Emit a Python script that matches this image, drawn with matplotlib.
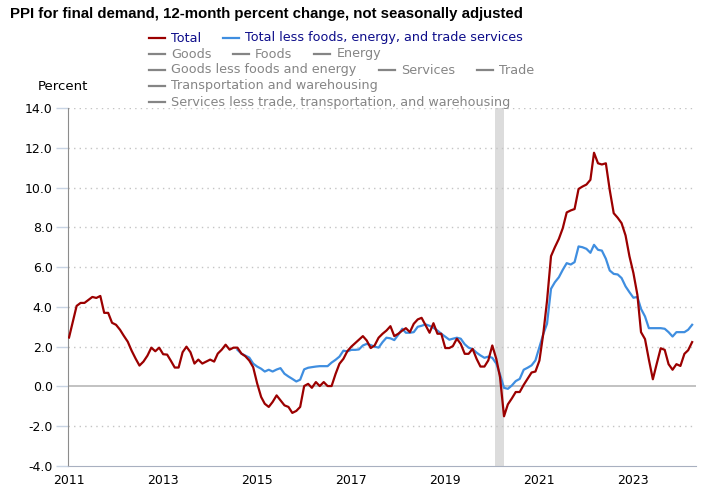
import numpy as np
import pandas as pd
import matplotlib
matplotlib.use('Agg')
import matplotlib.pyplot as plt
from matplotlib.lines import Line2D

# PPI final demand, 12-month percent change (Jan 2011 - Apr 2024)
total = [2.46, 3.3, 4.05, 4.2, 4.2, 4.35, 4.5, 4.45, 4.55, 3.7, 3.7, 3.2,
         3.1, 2.85, 2.55, 2.25, 1.8, 1.4, 1.05, 1.25, 1.55, 1.95, 1.77, 1.95,
         1.62, 1.6, 1.3, 0.95, 0.95, 1.72, 2.0, 1.72, 1.15, 1.35, 1.15, 1.25,
         1.35, 1.25, 1.65, 1.85, 2.1, 1.85, 1.95, 1.95, 1.65, 1.52, 1.3, 0.97,
         0.15, -0.53, -0.87, -1.03, -0.78, -0.45, -0.7, -0.95, -1.03, -1.33, -1.23, -1.03,
         0.02, 0.13, -0.07, 0.22, 0.02, 0.22, 0.02, 0.02, 0.63, 1.14, 1.39, 1.77,
         2.0, 2.18, 2.35, 2.53, 2.31, 1.93, 2.06, 2.45, 2.65, 2.81, 3.03, 2.53,
         2.65, 2.81, 2.93, 2.73, 3.15, 3.37, 3.45, 3.07, 2.7, 3.18, 2.65, 2.65,
         1.93, 1.93, 2.03, 2.4, 2.14, 1.64, 1.64, 1.89, 1.39, 1.0, 1.0, 1.31,
         2.06, 1.39, 0.47, -1.5, -0.9, -0.6, -0.28, -0.28, 0.08, 0.38, 0.7, 0.75,
         1.3, 2.7, 4.3, 6.55, 7.0, 7.42, 7.95, 8.75, 8.85, 8.92, 9.93, 10.05,
         10.15, 10.39, 11.75, 11.22, 11.16, 11.22, 9.88, 8.71, 8.48, 8.21, 7.59, 6.55,
         5.7, 4.6, 2.73, 2.38, 1.35, 0.36, 1.14, 1.92, 1.84, 1.12, 0.84, 1.12,
         1.03, 1.64, 1.82, 2.23]

# Total less foods, energy, and trade services (Aug 2014 - Apr 2024)
core = [1.84, 1.65, 1.55, 1.45, 1.15,
        1.0, 0.89, 0.75, 0.84, 0.75, 0.85, 0.92, 0.64, 0.5, 0.38, 0.25, 0.34,
        0.86, 0.94, 0.97, 1.0, 1.02, 1.02, 1.02, 1.2, 1.34, 1.5, 1.8, 1.76,
        1.84, 1.84, 1.86, 2.06, 2.14, 2.08, 2.0, 1.95, 2.23, 2.45, 2.42, 2.33,
        2.6, 2.9, 2.7, 2.7, 2.73, 3.0, 3.05, 3.12, 3.05, 2.95, 2.81, 2.65,
        2.5, 2.35, 2.4, 2.45, 2.4, 2.12, 1.95, 1.88, 1.7, 1.56, 1.44, 1.5,
        1.44, 1.15, 0.6, -0.07, -0.12, 0.05, 0.27, 0.38, 0.84, 0.94, 1.06, 1.31,
        1.98, 2.65, 3.15, 4.91, 5.24, 5.49, 5.86, 6.2, 6.13, 6.25, 7.04, 7.0,
        6.92, 6.72, 7.12, 6.87, 6.83, 6.42, 5.83, 5.66, 5.63, 5.45, 5.03, 4.74,
        4.46, 4.5, 3.9, 3.52, 2.93, 2.93, 2.93, 2.93, 2.9, 2.73, 2.51, 2.73,
        2.73, 2.73, 2.85, 3.1]

total_dates = pd.date_range('2011-01-01', periods=len(total), freq='MS')
core_dates = pd.date_range('2014-08-01', periods=len(core), freq='MS')

recession = ('2020-02-01', '2020-04-01')
year_ticks = ['2011', '2013', '2015', '2017', '2019', '2021', '2023']
y_ticks = np.arange(-4, 15, 2)

W, H = 713, 494
fig = plt.figure(figsize=(W / 100, H / 100), dpi=100)
ax = fig.add_axes([68 / W, 1 - 466 / H, (696 - 68) / W, (466 - 108) / H])

ax.axvspan(pd.Timestamp('2020-01-24'), pd.Timestamp(recession[1]), color='#dcdcdc', lw=0, zorder=1)
for v in y_ticks:
    if v == 0:
        ax.axhline(0, color='#b8b8b8', lw=1.2, zorder=2)
    elif v > -4:
        ax.axhline(v, color='#c4c4c4', lw=1.0, ls=(0, (1, 3)), zorder=2)

ax.plot(core_dates, core, color='#3f8ee0', lw=1.6, zorder=4)
ax.plot(total_dates, total, color='#9b0000', lw=1.6, zorder=5)

ax.set_xlim(pd.Timestamp('2010-12-24'), pd.Timestamp('2024-05-01'))
ax.set_ylim(-4, 14)
ax.set_yticks(y_ticks)
ax.set_yticklabels(['%.1f' % v for v in y_ticks])
ax.set_xticks([pd.Timestamp(y + '-01-01') for y in year_ticks])
ax.set_xticklabels(year_ticks)
ax.tick_params(axis='y', length=9, width=1, color='#c8d4e4', labelsize=9, pad=2)
ax.tick_params(axis='x', length=0, labelsize=9, pad=6)
for s in ['top', 'right']:
    ax.spines[s].set_visible(False)
ax.spines['left'].set_color('#8c8c8c')
ax.spines['bottom'].set_color('#a8b0c0')

fig.text(10 / W, 1 - 14 / H, 'PPI for final demand, 12-month percent change, not seasonally adjusted',
         fontsize=10.8, fontweight='bold', family='Liberation Sans', va='center')
fig.text(38 / W, 1 - 86 / H, 'Percent', fontsize=9.5, va='center')

# legend entries: (line start x, text x, row y, label, line colour, text colour)
navy = '#0d0d8a'
grey = '#858585'
legend = [
    (149, 171, 38, 'Total', '#9b0000', navy),
    (223, 245, 38, 'Total less foods, energy, and trade services', '#3f8ee0', navy),
    (149, 171, 54, 'Goods', grey, grey),
    (233, 255, 54, 'Foods', grey, grey),
    (314, 337, 54, 'Energy', grey, grey),
    (149, 171, 70, 'Goods less foods and energy', grey, grey),
    (379, 401, 70, 'Services', grey, grey),
    (477, 499, 70, 'Trade', grey, grey),
    (149, 171, 86, 'Transportation and warehousing', grey, grey),
    (149, 171, 102, 'Services less trade, transportation, and warehousing', grey, grey),
]
for x0, xt, yy, lab, lc, tc in legend:
    fig.add_artist(Line2D([x0 / W, (x0 + 16) / W], [1 - yy / H, 1 - yy / H],
                          transform=fig.transFigure, color=lc, lw=1.6))
    fig.text(xt / W, 1 - yy / H, lab, fontsize=9.2, color=tc, va='center')

fig.savefig('out.png', dpi=100)
plt.close()
